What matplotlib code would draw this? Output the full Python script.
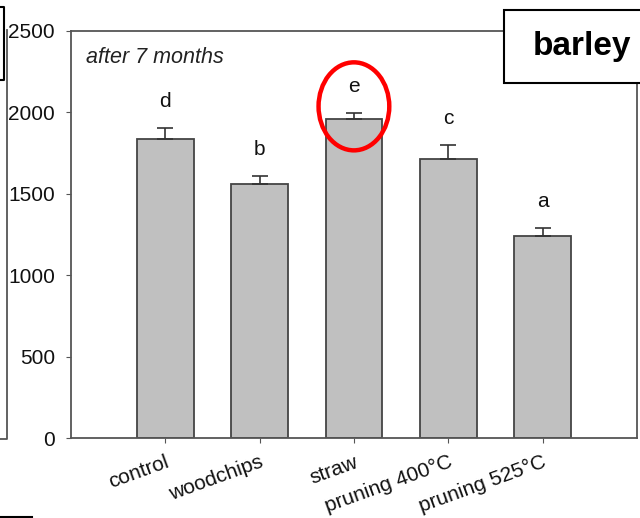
import matplotlib
matplotlib.use("Agg")
import matplotlib.pyplot as plt
from matplotlib.patches import Ellipse, Rectangle
from matplotlib.lines import Line2D

# ----------------------------------------------------------
# Data
# ----------------------------------------------------------
treatments = ["control", "woodchips", "straw", "pruning 400°C", "pruning 525°C"]
means = [1835, 1558, 1955, 1712, 1240]
errors = [70, 50, 40, 85, 48]
letters = ["d", "b", "e", "c", "a"]
yticks = [0, 500, 1000, 1500, 2000, 2500]

plt.rcParams["font.family"] = ["Liberation Sans", "DejaVu Sans"]

fig = plt.figure(figsize=(6.4, 5.18), dpi=100)
ax = fig.add_axes([0.111, 0.1544, 0.884, 0.7866])

spine_col = "#555555"
x = list(range(len(treatments)))

ax.bar(x, means, width=0.6, color="#c0c0c0", edgecolor="#444444",
       linewidth=1.3, zorder=2)
ax.errorbar(x, means, yerr=[[0] * len(errors), errors], fmt="none",
            ecolor="#333333", elinewidth=1.2, capsize=6, capthick=1.2, zorder=3)

# significance letters
for xi, m, e, let in zip(x, means, errors, letters):
    ax.annotate(let, xy=(xi, m + e), xytext=(0, 12), textcoords="offset points",
                ha="center", va="bottom", fontsize=15, color="#111111")

ax.set_xlim(-1, 5)
ax.set_ylim(0, 2500)
ax.set_yticks(yticks)
ax.set_xticks(x)
ax.set_xticklabels(treatments, rotation=20, ha="right", rotation_mode="anchor",
                   fontsize=15, color="#111111")
ax.tick_params(axis="y", labelsize=15, direction="out", length=3.5,
               color=spine_col, pad=8, labelcolor="#111111")
ax.tick_params(axis="x", direction="out", length=3.5, color=spine_col, pad=7)

for s in ax.spines.values():
    s.set_color(spine_col)
    s.set_linewidth(1.3)

ax.text(0.026, 0.935, "after 7 months", transform=ax.transAxes, fontsize=15.5,
        style="italic", ha="left", va="center", color="#222222")

# red highlight around straw
ax.add_patch(Ellipse((2, 2035), width=0.75, height=540, transform=ax.transData,
                     fill=False, edgecolor="red", linewidth=3.2, zorder=5,
                     clip_on=False))

# "barley" label box
fig.add_artist(Rectangle((504 / 640, 1 - 83 / 518), 0.25, 73 / 518,
                         transform=fig.transFigure, facecolor="white",
                         edgecolor="black", linewidth=1.5, zorder=10))
fig.text(582 / 640, 1 - 47 / 518, "barley", fontsize=24, fontweight="bold",
         ha="center", va="center", zorder=11)

# pieces of the neighbouring panel at the left edge
fig.add_artist(Line2D([0, 4 / 640, 4 / 640, 0],
                      [1 - 7 / 518, 1 - 7 / 518, 1 - 80 / 518, 1 - 80 / 518],
                      transform=fig.transFigure, color="black", linewidth=1.5))
fig.add_artist(Line2D([7 / 640, 7 / 640, 0], [1 - 30 / 518, 1 - 439 / 518, 1 - 439 / 518],
                      transform=fig.transFigure, color=spine_col, linewidth=1.3))
fig.add_artist(Line2D([0, 32 / 640], [1 - 517 / 518, 1 - 517 / 518],
                      transform=fig.transFigure, color="black", linewidth=1.5))

fig.savefig("out.png", dpi=100, facecolor="white")
